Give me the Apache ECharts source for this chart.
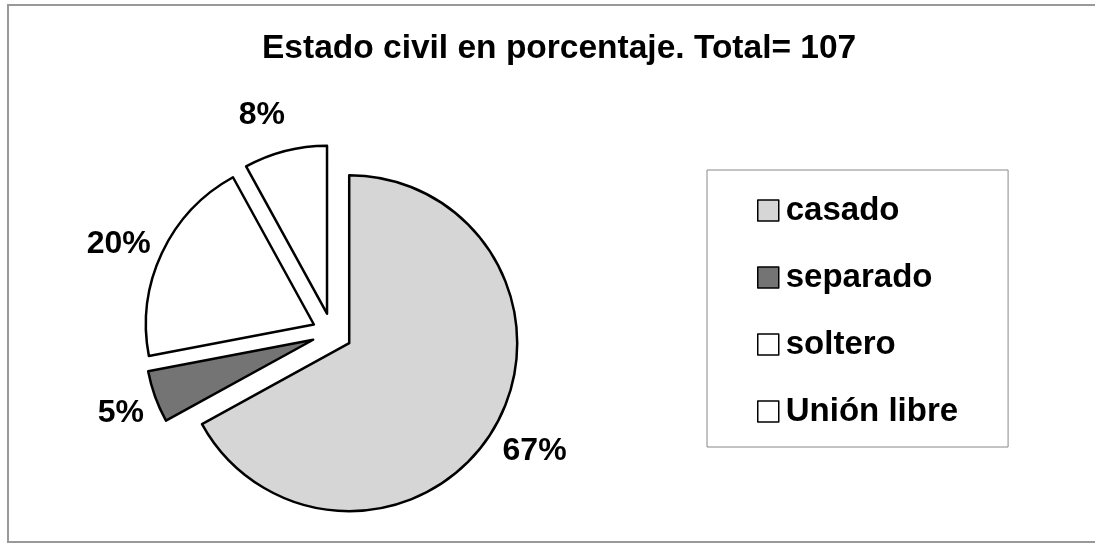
<!DOCTYPE html>
<html>
<head>
<meta charset="utf-8">
<script src="https://cdn.jsdelivr.net/npm/echarts@6/dist/echarts.min.js"></script>
<style>
html,body{margin:0;padding:0;background:#fff;}
#chart{width:1095px;height:545px;}
</style>
</head>
<body>
<div id="chart"></div>
<script>
const titleText = 'Estado civil en porcentaje. Total= 107';
const categories = ['casado', 'separado', 'soltero', 'Unión libre'];
const values = [67, 5, 20, 8];
const colors = ['#d6d6d6', '#747474', '#ffffff', '#ffffff'];
// label line lengths per slice (label placement like the original)
const labelLen = [45, 49, 20, 37];
const labelLen2 = [-35, -40, -12, -14];

const FONT = '"Liberation Sans", Arial, sans-serif';
const chart = echarts.init(document.getElementById('chart'));
chart.setOption({
  backgroundColor: '#fff',
  animation: false,
  title: {
    text: titleText,
    left: 257,
    top: 27,
    textStyle: { fontFamily: FONT, fontWeight: 'bold', fontSize: 33.5, color: '#000' }
  },
  graphic: [{
    type: 'rect',
    shape: { x: 8, y: 5, width: 1100, height: 537 },
    style: { fill: 'none', stroke: '#999', lineWidth: 2 },
    silent: true, z: -1
  }],
  legend: {
    orient: 'vertical',
    left: 707,
    top: 170,
    padding: [24, 50, 19, 50],
    itemGap: 34,
    itemWidth: 21,
    itemHeight: 21,
    icon: 'rect',
    borderColor: '#888',
    borderWidth: 1,
    selectedMode: false,
    textStyle: { fontFamily: FONT, fontWeight: 'bold', fontSize: 33, color: '#000', lineHeight: 33, padding: [0, 0, 0, 2] },
    itemStyle: { borderColor: '#000', borderWidth: 1.5 },
    data: categories
  },
  series: [{
    type: 'pie',
    center: [332, 333],
    radius: 168,
    startAngle: 90,
    clockwise: true,
    selectedMode: 'multiple',
    selectedOffset: 20,
    avoidLabelOverlap: false,
    itemStyle: { borderColor: '#000', borderWidth: 2.5 },
    emphasis: { disabled: true },
    select: { itemStyle: { borderColor: '#000', borderWidth: 2.5 } },
    label: {
      show: true,
      position: 'outside',
      formatter: '{c}%',
      fontFamily: FONT, fontWeight: 'bold', fontSize: 32, color: '#000'
    },
    labelLine: { show: false, length: 8, length2: 0 },
    data: categories.map((c, i) => ({
      name: c, value: values[i], selected: true,
      itemStyle: { color: colors[i] },
      labelLine: { show: false, length: labelLen[i], length2: labelLen2[i] }
    }))
  }]
});
</script>
</body>
</html>
